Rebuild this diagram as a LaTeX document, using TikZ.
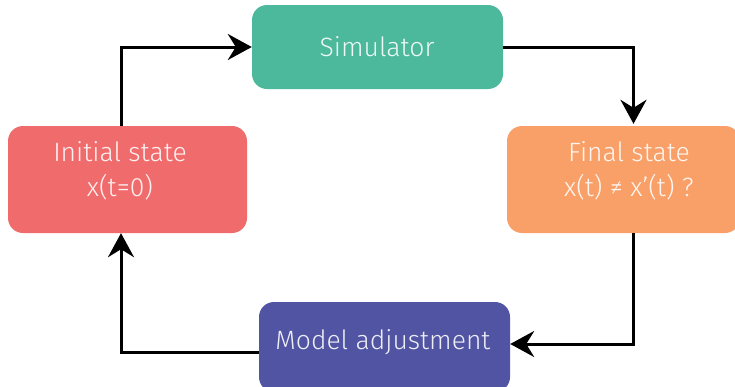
\documentclass[tikz,border=0pt]{standalone}
\usepackage{fontspec}
\setmainfont{Fira Sans Light}
\usetikzlibrary{arrows.meta}
\definecolor{cSim}{HTML}{4CB89C}
\definecolor{cIni}{HTML}{F06B6C}
\definecolor{cFin}{HTML}{F8A068}
\definecolor{cMod}{HTML}{5054A2}
\tikzset{
  box/.style={rectangle, rounded corners=15pt, draw=none, inner sep=0pt},
  txt/.style={text=white, text opacity=0.9, align=center, inner sep=0pt, font=\fontsize{26.5}{35}\selectfont},
  arr/.style={line width=3pt, -{Stealth[length=24pt,width=26pt,inset=8pt]}}
}
\begin{document}
\begin{tikzpicture}[x=1pt,y=-1pt]
\useasboundingbox (0,0) rectangle (735,386);
\node[box, fill=cSim, minimum width=251pt, minimum height=84pt] (sim) at (377.5,47) {};
\node[box, fill=cIni, minimum width=239pt, minimum height=107pt] (ini) at (127.5,179.5) {};
\node[box, fill=cFin, minimum width=233pt, minimum height=107pt] (fin) at (623.5,179.5) {};
\node[box, fill=cMod, minimum width=251pt, minimum height=90pt] (mod) at (384.5,347) {};
\node[txt] (simtxt) at (377,47) {Simulator};
\node[txt] (initxt) at (120,171) {Initial state\\x(t=0)};
\node[txt] (fintxt) at (629,171) {Final state\\x(t) ≠ x’(t) ?};
\node[txt] (modtxt) at (383,342) {Model adjustment};
\draw[arr] ([xshift=-6.5pt]ini.north) |- (sim.west);
\draw[arr, shorten >=2pt] (sim.east) -| ([xshift=10pt]fin.north);
\draw[arr] ([xshift=10pt]fin.south) |- ([yshift=3pt]mod.east);
\draw[arr] ([yshift=-5.5pt]mod.west) -| ([xshift=-6.5pt]ini.south);
\end{tikzpicture}
\end{document}
